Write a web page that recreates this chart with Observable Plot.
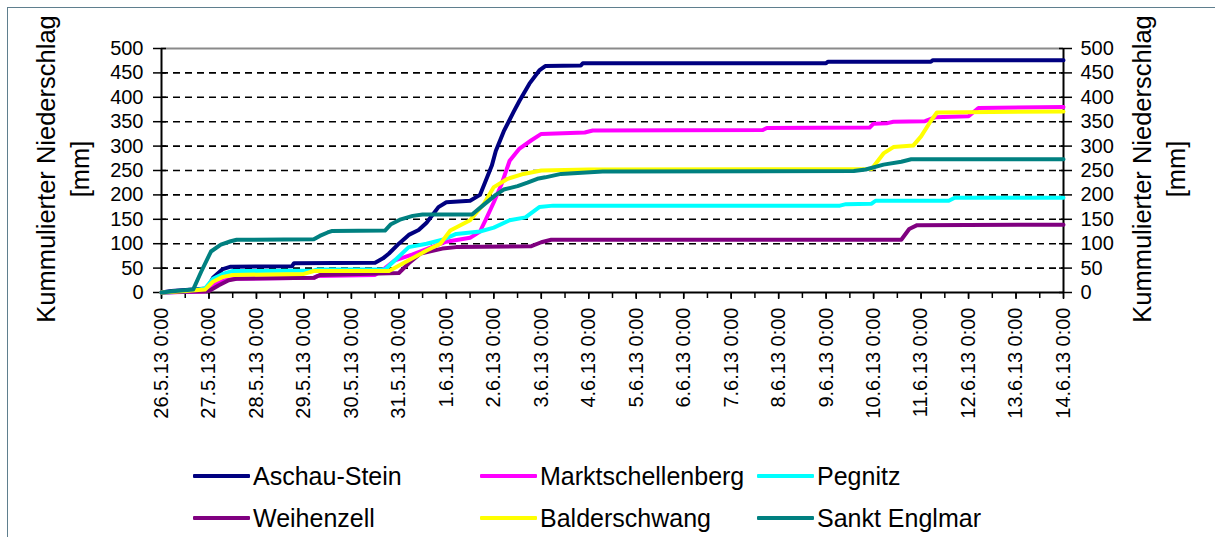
<!DOCTYPE html>
<html><head><meta charset="utf-8">
<script src="https://cdn.jsdelivr.net/npm/d3@7"></script>
<script src="https://cdn.jsdelivr.net/npm/@observablehq/plot@0.6"></script>
<style>
body{margin:0;background:#fff;font-family:"Liberation Sans",Arial,sans-serif;}
#wrap{position:relative;width:1215px;height:537px;overflow:hidden;background:#fff}
#frame{position:absolute;left:7px;top:7px;width:1230px;height:560px;border:1.5px solid #5f7f8e;box-sizing:border-box}
#chart{position:absolute;left:0;top:0}
.item{position:absolute;display:flex;align-items:center;height:30px;font-size:25px;line-height:30px;color:#000;white-space:nowrap}
.sw{display:inline-block;width:57px;height:4px;margin-right:3px;border-radius:1px}
.ytitle{position:absolute;transform:translate(-50%,-50%) rotate(-90deg);font-size:25.5px;line-height:34px;text-align:center;white-space:pre;color:#000}
</style></head>
<body><div id="wrap"><div id="frame"></div><div id="chart"></div><div id="legend"></div>
<div class="ytitle" id="ytl" style="left:63px;top:169px"></div>
<div class="ytitle" id="ytr" style="left:1159px;top:169px"></div>
</div>
<script>
const seriesNames = ["Aschau-Stein","Marktschellenberg","Pegnitz","Weihenzell","Balderschwang","Sankt Englmar"];
const seriesColors = ["#000080","#ff00ff","#00ffff","#800080","#ffff00","#008080"];

const aschauStein = [["05-26 00:00",0],["05-26 05:00",3],["05-26 23:00",8],["05-27 02:00",30],["05-27 07:00",48],["05-27 11:00",53],["05-28 18:00",54],["05-28 19:00",60],["05-30 12:00",61],["05-30 16:00",70],["05-30 19:00",80],["05-31 00:00",100],["05-31 05:00",118],["05-31 10:00",128],["05-31 14:00",143],["05-31 20:00",175],["06-01 00:00",185],["06-01 12:00",188],["06-01 17:00",200],["06-01 19:00",220],["06-01 23:00",260],["06-02 01:00",290],["06-02 05:00",330],["06-02 10:00",370],["06-02 13:00",393],["06-02 18:00",428],["06-02 23:00",455],["06-03 02:00",464],["06-03 20:00",465],["06-03 21:00",470],["06-09 00:00",470],["06-09 01:00",473],["06-11 05:00",473],["06-11 06:00",476],["06-14 00:00",476]];
const marktschellenberg = [["05-26 00:00",0],["05-26 22:00",2],["05-27 02:00",15],["05-27 07:00",24],["05-27 12:00",28],["05-29 05:00",30],["05-29 07:00",34],["05-30 12:00",36],["05-30 17:00",50],["05-30 22:00",66],["05-31 07:00",78],["05-31 12:00",86],["06-01 00:00",104],["06-01 12:00",112],["06-01 17:00",125],["06-01 20:00",150],["06-02 00:00",185],["06-02 04:00",223],["06-02 08:00",270],["06-02 13:00",295],["06-02 19:00",312],["06-03 00:00",325],["06-03 22:00",328],["06-04 02:00",332],["06-07 16:00",333],["06-07 18:00",337],["06-09 22:00",338],["06-10 00:00",346],["06-10 07:00",347],["06-10 10:00",350],["06-11 02:00",351],["06-11 07:00",359],["06-12 00:00",361],["06-12 05:00",378],["06-14 00:00",380]];
const pegnitz = [["05-26 00:00",0],["05-26 12:00",2],["05-26 22:00",8],["05-27 02:00",28],["05-27 07:00",38],["05-27 12:00",44],["05-29 05:00",45],["05-29 07:00",47],["05-30 17:00",47],["05-30 22:00",66],["05-31 05:00",93],["05-31 14:00",100],["05-31 22:00",108],["06-01 05:00",120],["06-01 17:00",125],["06-02 00:00",133],["06-02 08:00",148],["06-02 16:00",154],["06-02 23:00",175],["06-03 06:00",178],["06-09 07:00",178],["06-09 10:00",181],["06-09 23:00",182],["06-10 01:00",188],["06-11 14:00",188],["06-11 17:00",194],["06-14 00:00",194]];
const weihenzell = [["05-26 00:00",0],["05-27 00:00",3],["05-27 05:00",15],["05-27 10:00",25],["05-27 14:00",28],["05-29 05:00",30],["05-29 08:00",36],["05-31 00:00",40],["05-31 05:00",60],["05-31 11:00",80],["05-31 22:00",90],["06-01 05:00",93],["06-02 19:00",95],["06-03 00:00",103],["06-03 05:00",108],["06-10 14:00",108],["06-10 18:00",130],["06-10 22:00",138],["06-14 00:00",139]];
const balderschwang = [["05-26 00:00",0],["05-26 12:00",3],["05-26 22:00",6],["05-27 02:00",22],["05-27 07:00",32],["05-27 12:00",36],["05-29 00:00",38],["05-29 05:00",44],["05-30 19:00",44],["05-31 05:00",66],["05-31 14:00",86],["05-31 21:00",100],["06-01 02:00",127],["06-01 12:00",148],["06-01 19:00",182],["06-02 00:00",216],["06-02 07:00",233],["06-02 15:00",243],["06-03 00:00",250],["06-04 00:00",252],["06-09 23:00",253],["06-10 05:00",285],["06-10 10:00",298],["06-10 20:00",301],["06-11 00:00",320],["06-11 05:00",352],["06-11 08:00",369],["06-14 00:00",371]];
const sanktEnglmar = [["05-26 00:00",0],["05-26 07:00",3],["05-26 16:00",6],["05-26 20:00",42],["05-27 01:00",84],["05-27 06:00",98],["05-27 11:00",105],["05-27 14:00",108],["05-29 05:00",109],["05-29 08:00",116],["05-29 12:00",123],["05-29 14:00",126],["05-30 17:00",127],["05-30 20:00",140],["05-31 01:00",150],["05-31 07:00",157],["05-31 12:00",160],["06-01 13:00",160],["06-01 19:00",180],["06-02 01:00",200],["06-02 05:00",211],["06-02 12:00",218],["06-02 17:00",225],["06-02 22:00",233],["06-03 02:00",236],["06-03 10:00",243],["06-04 07:00",248],["06-09 14:00",249],["06-09 20:00",252],["06-10 05:00",262],["06-10 14:00",268],["06-10 19:00",273],["06-14 00:00",273]];

const xTickDates = ["05-26 00:00","05-27 00:00","05-28 00:00","05-29 00:00","05-30 00:00","05-31 00:00","06-01 00:00","06-02 00:00","06-03 00:00","06-04 00:00","06-05 00:00","06-06 00:00","06-07 00:00","06-08 00:00","06-09 00:00","06-10 00:00","06-11 00:00","06-12 00:00","06-13 00:00","06-14 00:00"];
const xTickLabels = ["26.5.13 0:00","27.5.13 0:00","28.5.13 0:00","29.5.13 0:00","30.5.13 0:00","31.5.13 0:00","1.6.13 0:00","2.6.13 0:00","3.6.13 0:00","4.6.13 0:00","5.6.13 0:00","6.6.13 0:00","7.6.13 0:00","8.6.13 0:00","9.6.13 0:00","10.6.13 0:00","11.6.13 0:00","12.6.13 0:00","13.6.13 0:00","14.6.13 0:00"];
const yTicks = [0,50,100,150,200,250,300,350,400,450,500];
const yTitle = "Kummulierter Niederschlag\n[mm]";

const parse = s => d3.utcParse("%Y-%m-%d %H:%M")("2013-" + s);
const seriesData = [aschauStein, marktschellenberg, pegnitz, weihenzell, balderschwang, sanktEnglmar];
const rows = seriesData.flatMap((arr, k) => arr.map(([t, v]) => ({name: seriesNames[k], t: parse(t), v})));
const tickTimes = xTickDates.map(parse);
const labelByTime = new Map(tickTimes.map((d, i) => [+d, xTickLabels[i]]));
const x0 = tickTimes[0], x1 = tickTimes[tickTimes.length - 1];
const halfDays = d3.utcHour.every(12).range(x0, new Date(+x1 + 1));

const chart = Plot.plot({
  width: 1215, height: 445,
  marginLeft: 161, marginRight: 152, marginTop: 48, marginBottom: 153,
  style: {fontFamily: "'Liberation Sans', Arial, sans-serif", fontSize: "20px", background: "transparent", overflow: "visible", color: "#000"},
  x: {type: "utc", domain: [x0, x1]},
  y: {domain: [0, 500]},
  color: {domain: seriesNames, range: seriesColors},
  marks: [
    Plot.ruleY(yTicks.slice(1, -1), {stroke: "#000", strokeWidth: 1.6, strokeDasharray: "7,5"}),
    Plot.ruleY([500], {stroke: "#8a8a8a", strokeWidth: 2}),
    Plot.axisY({anchor: "left", ticks: yTicks, tickSize: 8, tickPadding: 10, label: null, strokeWidth: 1.5, fontSize: 20}),
    Plot.axisY({anchor: "left", ticks: yTicks, tickSize: -5, text: null, label: null, strokeWidth: 1.5}),
    Plot.axisY({anchor: "right", ticks: yTicks, tickSize: 8, tickPadding: 9, label: null, strokeWidth: 1.5, fontSize: 20}),
    Plot.axisY({anchor: "right", ticks: yTicks, tickSize: -5, text: null, label: null, strokeWidth: 1.5}),
    Plot.axisX({ticks: halfDays, tickSize: 6, text: null, label: null, strokeWidth: 1.5}),
    Plot.axisX({ticks: tickTimes, tickSize: 7, tickPadding: 8, tickRotate: -90, tickFormat: d => labelByTime.get(+d), label: null, strokeWidth: 1.5, fontSize: 20}),
    Plot.ruleX([x0, x1], {stroke: "#000", strokeWidth: 2}),
    Plot.ruleY([0], {stroke: "#000", strokeWidth: 2}),
    Plot.line(rows, {x: "t", y: "v", z: "name", stroke: "name", strokeWidth: 4, curve: "linear"})
  ]
});
document.getElementById("chart").appendChild(chart);
document.getElementById("ytl").textContent = yTitle;
document.getElementById("ytr").textContent = yTitle;

const legendPos = [[193,461],[480,461],[757,461],[193,503],[480,503],[757,503]];
const legend = document.getElementById("legend");
seriesNames.forEach((n, i) => {
  const d = document.createElement("div");
  d.className = "item";
  d.style.left = legendPos[i][0] + "px";
  d.style.top = legendPos[i][1] + "px";
  d.innerHTML = `<span class="sw" style="background:${seriesColors[i]}"></span><span>${n}</span>`;
  legend.appendChild(d);
});
</script></body></html>
